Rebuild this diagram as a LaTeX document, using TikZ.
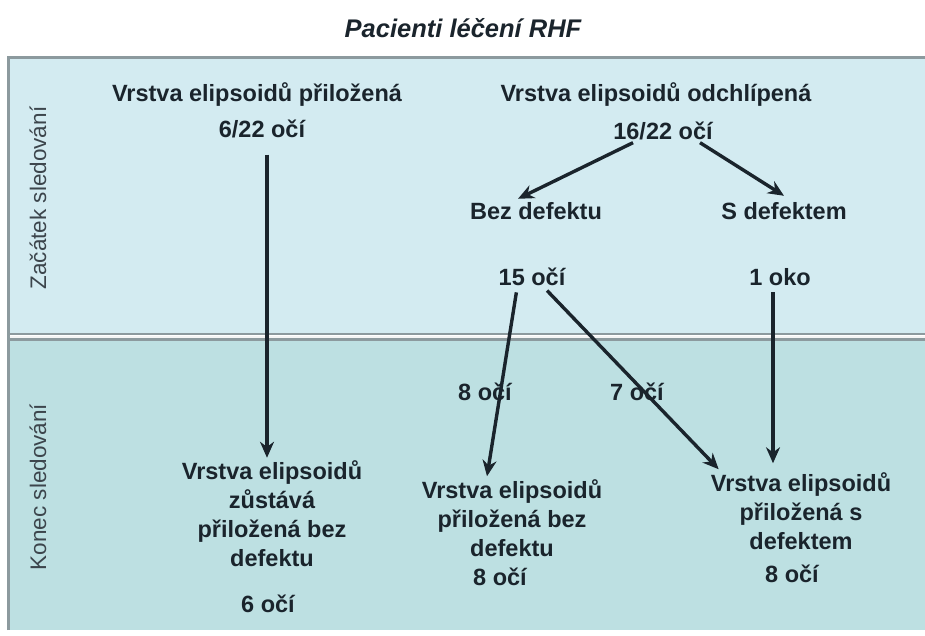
\documentclass[tikz,border=0pt]{standalone}
\usepackage{fontspec}
\setmainfont{Liberation Sans}
\usetikzlibrary{arrows.meta}
\definecolor{topbg}{HTML}{D3EBF1}
\definecolor{botbg}{HTML}{BDE0E2}
\definecolor{frame}{HTML}{8C9A9E}
\definecolor{ink}{HTML}{1A242C}
\tikzset{
  txt/.style={text=ink, font=\bfseries\fontsize{23.5}{29}\selectfont, inner sep=3pt},
  base/.style={txt, anchor=base},
  block/.style={txt, align=center},
  side/.style={text=ink!85, font=\fontsize{22.5}{26}\selectfont, rotate=90},
  arr/.style={draw=ink, line width=3.4pt, -{Stealth[length=16pt,width=14pt]}}
}
\begin{document}
\begin{tikzpicture}[x=1pt,y=-1pt]
\useasboundingbox (0,0) rectangle (925,635);
\fill[white] (0,0) rectangle (925,635);
% panels
\fill[topbg] (8,57) rectangle (925,335);
\fill[botbg] (8,338) rectangle (925,630);
\draw[frame, line width=3pt] (8,630) -- (8,57) -- (925,57);
\draw[frame, line width=2.5pt] (8,334) -- (925,334);
\draw[frame, line width=2.5pt] (8,339.5) -- (925,339.5);
\draw[white!90!frame, line width=1.5pt] (9.5,336.8) -- (925,336.8);
% title
\node[text=ink, font=\bfseries\itshape\fontsize{25.5}{30}\selectfont] (title) at (463,28) {Pacienti léčení RHF};
% side labels
\node[side] (zac) at (38,198) {Začátek sledování};
\node[side] (kon) at (38,487) {Konec sledování};
% top texts
\node[base] (h1) at (257,101) {Vrstva elipsoidů přiložená};
\node[base] (c1) at (262,137) {6/22 očí};
\node[base] (h2) at (656,101) {Vrstva elipsoidů odchlípená};
\node[base] (c2) at (663,139) {16/22 očí};
\node[base] (bez) at (536,219) {Bez defektu};
\node[base] (sdef) at (784,219) {S defektem};
\node[base] (n15) at (532,285) {15 očí};
\node[base] (n1) at (780,285) {1 oko};
\node[base] (l8) at (485,400) {8 očí};
\node[base] (l7) at (637,400) {7 očí};
% bottom blocks
\node[block] (b1) at (272,514) {Vrstva elipsoidů\\zůstává\\přiložená bez\\defektu};
\node[base] (e1) at (268,612) {6 očí};
\node[block] (b2) at (512,518) {Vrstva elipsoidů\\přiložená bez\\defektu};
\node[base] (e2) at (500,585) {8 očí};
\node[block] (b3) at (801,511) {Vrstva elipsoidů\\přiložená s\\defektem};
\node[base] (e3) at (792,582) {8 očí};
% arrows
\draw[arr, shorten <=14pt] ([xshift=5pt]c1.south) -- ([xshift=5pt]c1.south |- b1.north);
\draw[arr] ([xshift=-30pt]c2.south) -- ([xshift=-18pt]bez.north);
\draw[arr] ([xshift=37pt]c2.south) -- ([xshift=0pt,yshift=3pt]sdef.north);
\draw[arr, shorten <=4pt] ([xshift=-15pt]n15.south) -- ([xshift=-25pt]b2.north);
\draw[arr, shorten <=3pt] ([xshift=13pt]n15.south) -- ([xshift=11pt]b3.north west);
\draw[arr, shorten <=4pt, shorten >=6pt] ([xshift=-7pt]n1.south) -- ([xshift=-7pt]n1.south |- b3.north);
\end{tikzpicture}
\end{document}
